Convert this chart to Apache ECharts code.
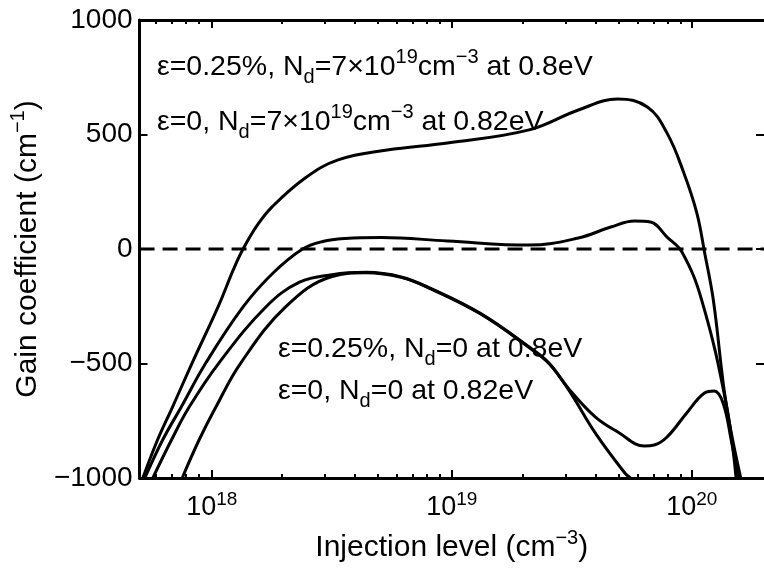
<!DOCTYPE html>
<html>
<head>
<meta charset="utf-8">
<script src="https://cdn.jsdelivr.net/npm/echarts@6/dist/echarts.min.js"></script>
<style>
  html, body { margin: 0; padding: 0; background: #fff; }
  #chart { width: 764px; height: 572px; }
</style>
</head>
<body>
<div id="chart"></div>
<script>
// injection level (cm^-3) / gain coefficient (cm^-1)
var injA = [5.16e17, 5.94e17, 6.86e17, 8.28e17, 1.07e18, 1.23e18, 1.35e18, 1.55e18, 1.78e18, 2.45e18, 3.36e18, 5.38e18, 9.59e18, 2.10e19, 3.37e19, 4.92e19, 6.53e19, 7.89e19, 9.27e19, 1.05e20, 1.13e20, 1.23e20, 1.39e20, 1.60e20];
var gainA = [-1000, -834, -690, -498, -245, -90, 0, 105, 183, 310, 389, 432, 463, 520, 607, 655, 620, 506, 332, 157, -13, -223, -674, -1000];

var injB = [5.26e17, 6.24e17, 7.46e17, 9.44e17, 1.35e18, 1.80e18, 2.39e18, 2.90e18, 3.60e18, 5.08e18, 9.59e18, 2.10e19, 3.37e19, 4.60e19, 5.78e19, 6.73e19, 7.89e19, 9.10e19, 1.10e20, 1.39e20, 1.53e20];
var gainB = [-1000, -834, -690, -498, -253, -105, 0, 33, 46, 50, 35, 17, 48, 96, 122, 118, 52, -13, -223, -674, -1000];

var injC = [5.68e17, 6.79e17, 8.05e17, 1.07e18, 1.68e18, 2.32e18, 3.17e18, 4.40e18, 6.15e18, 8.17e18, 1.31e19, 2.10e19, 2.54e19, 3.07e19, 3.96e19, 4.92e19, 6.35e19, 6.98e19, 7.89e19, 9.53e19, 1.13e20, 1.24e20, 1.35e20, 1.46e20, 1.56e20];
var gainC = [-1000, -834, -690, -498, -253, -145, -112, -102, -122, -172, -280, -428, -498, -610, -733, -799, -860, -856, -821, -716, -629, -620, -672, -834, -1000];

var injD = [7.53e17, 8.85e17, 1.04e18, 1.32e18, 2.03e18, 3.17e18, 4.40e18, 6.15e18, 8.17e18, 1.31e19, 2.10e19, 2.54e19, 3.07e19, 3.96e19, 5.26e19, 5.56e19];
var gainD = [-1000, -834, -690, -498, -253, -120, -104, -124, -174, -282, -430, -500, -615, -803, -978, -1000];

var zeroLine = [[5e17, 0], [2e20, 0]];

var xMajor = [1e18, 1e19, 1e20];
var xMinor = [6e17, 7e17, 8e17, 9e17,
  2e18, 3e18, 4e18, 5e18, 6e18, 7e18, 8e18, 9e18,
  2e19, 3e19, 4e19, 5e19, 6e19, 7e19, 8e19, 9e19];

var FONT = '"Liberation Sans", Arial, Helvetica, sans-serif';
var GRID = { left: 137, top: 20, right: -4, bottom: 94, containLabel: false };

function pairs(xs, ys) {
  return xs.map(function (x, i) { return [x, ys[i]]; });
}

var richText = {
  n: { fontSize: 28.5, lineHeight: 40, fontFamily: FONT, color: '#000' },
  sub: { fontSize: 20, lineHeight: 16, verticalAlign: 'bottom', fontFamily: FONT, color: '#000' },
  sup: { fontSize: 20, lineHeight: 16, verticalAlign: 'top', fontFamily: FONT, color: '#000' }
};
var titleRich = {
  n: { fontSize: 30, lineHeight: 40, fontFamily: FONT, color: '#000' },
  s: { fontSize: 20, lineHeight: 16, verticalAlign: 'top', fontFamily: FONT, color: '#000' }
};

function note(x, y, text) {
  return {
    type: 'text', left: x, top: y - 20, z: 1,
    style: { text: text, rich: richText, fill: '#000' }
  };
}

function curve(name, xs, ys) {
  return {
    name: name, type: 'line', data: pairs(xs, ys),
    showSymbol: false, smooth: 0.4,
    lineStyle: { color: '#000', width: 3 }, z: 10
  };
}

function logAxis(grid, pos, ticks, len, showLine, showLabel) {
  return {
    gridIndex: grid, type: 'log', logBase: 10, min: 5e17, max: 2e20, position: pos,
    axisLine: { show: showLine, onZero: false, lineStyle: { color: '#000', width: 3 } },
    axisTick: { show: true, inside: true, length: len, customValues: ticks, lineStyle: { color: '#000', width: 2 } },
    axisLabel: {
      show: showLabel, customValues: xMajor, margin: 12,
      formatter: function (v) {
        return '{b|10}{s|' + Math.round(Math.log10(v)) + '}';
      },
      rich: {
        b: { fontSize: 27, lineHeight: 36, fontFamily: FONT, color: '#000' },
        s: { fontSize: 19, lineHeight: 16, verticalAlign: 'top', fontFamily: FONT, color: '#000' }
      }
    },
    splitLine: { show: false },
    minorTick: { show: false }
  };
}

var chart = echarts.init(document.getElementById('chart'), null, { renderer: 'canvas' });
chart.setOption({
  backgroundColor: '#fff',
  animation: false,
  grid: [GRID, Object.assign({}, GRID)],
  xAxis: [
    Object.assign(logAxis(0, 'bottom', xMajor, 8, true, true), {
      name: '{n|Injection level (cm}{s|\u22123}{n|)}',
      nameLocation: 'middle', nameGap: 50,
      nameTextStyle: { rich: titleRich }
    }),
    logAxis(0, 'top', xMajor, 8, true, false),
    logAxis(1, 'bottom', xMinor, 4, false, false),
    logAxis(1, 'top', xMinor, 4, false, false)
  ],
  yAxis: [
    {
      gridIndex: 0, type: 'value', min: -1000, max: 1000, interval: 500, position: 'left',
      name: '{n|Gain coefficient (cm}{s|\u22121}{n|)}',
      nameLocation: 'middle', nameGap: 90, nameRotate: 90,
      nameTextStyle: { rich: titleRich },
      axisLine: { show: true, onZero: false, lineStyle: { color: '#000', width: 3 } },
      axisTick: { inside: true, length: 8, lineStyle: { color: '#000', width: 2 } },
      axisLabel: {
        margin: 7, fontSize: 28, fontFamily: FONT, color: '#000',
        formatter: function (v) { return v < 0 ? '\u2212' + Math.abs(v) : String(v); }
      },
      splitLine: { show: false }
    },
    {
      gridIndex: 0, type: 'value', min: -1000, max: 1000, interval: 500, position: 'right',
      axisLine: { show: false },
      axisTick: { inside: true, length: 8, lineStyle: { color: '#000', width: 2 } },
      axisLabel: { show: false },
      splitLine: { show: false }
    },
    {
      gridIndex: 1, type: 'value', min: -1000, max: 1000, show: false
    }
  ],
  series: [
    curve('\u03b5=0.25%, Nd=7e19 at 0.8eV', injA, gainA),
    curve('\u03b5=0, Nd=7e19 at 0.82eV', injB, gainB),
    curve('\u03b5=0.25%, Nd=0 at 0.8eV', injC, gainC),
    curve('\u03b5=0, Nd=0 at 0.82eV', injD, gainD),
    {
      name: 'zero', type: 'line', data: zeroLine, showSymbol: false,
      lineStyle: { color: '#000', width: 3, type: [15, 8] }, z: 5
    }
  ],
  graphic: [
    note(157, 67, '{n|\u03b5=0.25%, N}{sub|d}{n|=7\u00d710}{sup|19}{n|cm}{sup|\u22123}{n| at 0.8eV}'),
    note(157, 122, '{n|\u03b5=0, N}{sub|d}{n|=7\u00d710}{sup|19}{n|cm}{sup|\u22123}{n| at 0.82eV}'),
    note(278, 355, '{n|\u03b5=0.25%, N}{sub|d}{n|=0 at 0.8eV}'),
    note(278, 397, '{n|\u03b5=0, N}{sub|d}{n|=0 at 0.82eV}')
  ]
});
</script>
</body>
</html>
